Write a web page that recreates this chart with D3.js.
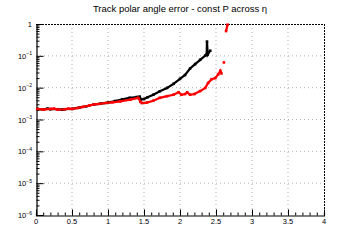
<!DOCTYPE html>
<head>
<meta charset="utf-8">
<script src="https://d3js.org/d3.v7.min.js"></script>
</head>
<style>
body { margin: 0; background: #fff; }
svg { font-family: "Liberation Sans", Arial, sans-serif; }
.grid { stroke: #b0b0b0; stroke-width: 1; stroke-dasharray: 1,3; }
</style>
<body>
<script>
// eta positions and polar angle error values
var etaBlack = [0.02,0.1,0.16,0.2,0.3,0.36,0.4,0.5,0.6,0.7,0.8,0.9,1.0,1.1,1.2,1.3,1.4,1.44,1.46,1.5,1.55,1.63,1.72,1.82,1.91,2.0,2.07,2.14,2.21,2.28,2.35,2.37,2.375,2.385,2.42];
var errBlack = [2.15e-3,2.05e-3,2.2e-3,2.1e-3,2.1e-3,2.05e-3,2.1e-3,2.15e-3,2.35e-3,2.6e-3,2.95e-3,3.15e-3,3.4e-3,3.8e-3,4.3e-3,4.8e-3,5.1e-3,5.2e-3,4.3e-3,4.4e-3,5.0e-3,6.0e-3,7.7e-3,9.8e-3,1.32e-2,1.9e-2,2.5e-2,4.0e-2,5.5e-2,7.5e-2,1.02e-1,1.1e-1,2.8e-1,1.1e-1,1.45e-1];

var etaRed = [0.02,0.1,0.2,0.25,0.3,0.4,0.45,0.5,0.58,0.65,0.74,0.81,0.88,0.97,1.06,1.17,1.31,1.42,1.45,1.47,1.54,1.63,1.72,1.82,1.91,1.98,2.02,2.07,2.1,2.14,2.2,2.28,2.35,2.39,2.44,2.49,2.53,2.56,2.575,2.61,2.64,2.66];
var errRed = [2.15e-3,2.05e-3,2.15e-3,2.2e-3,2.05e-3,2.1e-3,2.2e-3,2.15e-3,2.3e-3,2.5e-3,2.75e-3,3.0e-3,3.1e-3,3.3e-3,3.45e-3,3.7e-3,4.2e-3,4.8e-3,3.6e-3,3.3e-3,3.4e-3,3.9e-3,4.8e-3,5.4e-3,6.0e-3,7.2e-3,6.0e-3,6.3e-3,7.1e-3,6.0e-3,6.3e-3,7.8e-3,9.8e-3,1.4e-2,1.85e-2,2.0e-2,2.6e-2,3.4e-2,2.8e-2,6.2e-2,0.6,0.95];
// segments of the red series that are drawn apart
var redBreaks = [2.61, 2.64];

var xTicks = [0,0.5,1,1.5,2,2.5,3,3.5,4];
var yExps = [0,-1,-2,-3,-4,-5,-6];
var title = "Track polar angle error - const P across \u03b7";

var W = 360, H = 240,
    L = 36, R = 324, T = 24, B = 215;

var svg = d3.select("body").append("svg")
    .attr("width", W).attr("height", H);

var x = d3.scaleLinear().domain([0, 4]).range([L, R]);
var y = d3.scaleLog().domain([1e-6, 1]).range([B, T]);

// grid
svg.append("g").selectAll("line").data(xTicks.slice(1, -1)).enter().append("line")
    .attr("class", "grid")
    .attr("x1", d => x(d)).attr("x2", d => x(d))
    .attr("y1", T).attr("y2", B);
svg.append("g").selectAll("line").data(yExps.slice(1, -1)).enter().append("line")
    .attr("class", "grid")
    .attr("x1", L).attr("x2", R)
    .attr("y1", d => y(Math.pow(10, d))).attr("y2", d => y(Math.pow(10, d)));

// frame: dashed top and right
svg.append("line").attr("x1", L).attr("x2", R).attr("y1", T + 0.5).attr("y2", T + 0.5)
    .attr("stroke", "#000").attr("stroke-dasharray", "2,1");
svg.append("line").attr("x1", R + 0.5).attr("x2", R + 0.5).attr("y1", T).attr("y2", B)
    .attr("stroke", "#000").attr("stroke-dasharray", "2,1");

// x axis
var xAxis = d3.axisTop(x)
    .tickValues(d3.range(0, 4.001, 0.1))
    .tickSize(3).tickFormat("");
svg.append("g").attr("transform", "translate(0," + (B + 0.5) + ")").call(xAxis)
    .call(g => g.select(".domain").attr("stroke-width", 1.2));
svg.append("g").attr("transform", "translate(0," + (B + 0.5) + ")")
    .call(d3.axisTop(x).tickValues(xTicks).tickSize(6).tickFormat(""))
    .call(g => g.select(".domain").remove());
svg.append("g").selectAll("text").data(xTicks).enter().append("text")
    .attr("x", d => x(d)).attr("y", B + 9)
    .attr("text-anchor", "middle").attr("font-size", 7.5)
    .text(d => d);

// y axis
var minor = [];
yExps.slice(0, -1).forEach(function(e) {
  for (var k = 2; k < 10; k++) minor.push(k * Math.pow(10, e - 1));
});
svg.append("g").attr("transform", "translate(" + (L + 0.5) + ",0)")
    .call(d3.axisRight(y).tickValues(minor).tickSize(3).tickFormat(""))
    .call(g => g.select(".domain").attr("stroke-width", 1.2));
svg.append("g").attr("transform", "translate(" + (L + 0.5) + ",0)")
    .call(d3.axisRight(y).tickValues(yExps.map(e => Math.pow(10, e))).tickSize(7).tickFormat(""))
    .call(g => g.select(".domain").remove());

var yl = svg.append("g").selectAll("text").data(yExps).enter().append("text")
    .attr("x", 32).attr("y", d => y(Math.pow(10, d)) + 3)
    .attr("text-anchor", "end").attr("font-size", 7.5);
yl.each(function(d) {
  var t = d3.select(this);
  if (d === 0) { t.text("1"); return; }
  t.append("tspan").text("10");
  t.append("tspan").attr("dy", -3.5).attr("font-size", 5).text("\u2212" + (-d));
});

// series
function pts(eta, err) { return eta.map((e, i) => [e, err[i]]); }
var line = d3.line().x(d => x(d[0])).y(d => y(d[1]));

var blk = pts(etaBlack, errBlack);
var red = pts(etaRed, errRed);
var redSegs = [
  red.filter(d => d[0] < redBreaks[0]),
  red.filter(d => d[0] >= redBreaks[0] && d[0] < redBreaks[1]),
  red.filter(d => d[0] >= redBreaks[1])
];

function drawSeries(segs, col) {
  var g = svg.append("g");
  segs.forEach(function(s) {
    if (s.length > 1)
      g.append("path").attr("d", line(s)).attr("fill", "none")
        .attr("stroke", col).attr("stroke-width", 2.2);
  });
  g.selectAll("rect").data([].concat.apply([], segs)).enter().append("rect")
    .attr("x", d => x(d[0]) - 1.3).attr("y", d => y(d[1]) - 1.3)
    .attr("width", 2.6).attr("height", 2.6).attr("fill", col);
}
drawSeries([blk], "#000");
drawSeries(redSegs, "#ff0000");

// title
svg.append("text").attr("x", 180).attr("y", 12)
    .attr("text-anchor", "middle").attr("font-size", 9.5)
    .text(title);
</script>
</body>
